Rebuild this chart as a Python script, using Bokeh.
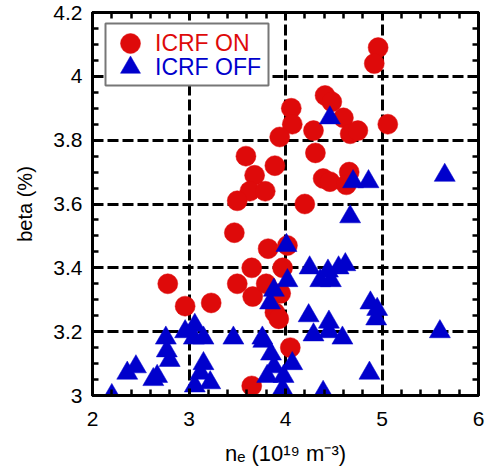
import numpy as np
from bokeh.plotting import figure
from bokeh.models import (ColumnDataSource, FixedTicker, LinearAxis, Range1d,
                          Legend, LegendItem, BoxAnnotation)
from bokeh.core.properties import value
from bokeh.embed import file_html
from bokeh.resources import INLINE

# ---- data ----
on_ne = [4.96, 4.92, 4.06, 4.07, 4.41, 4.48, 4.60, 4.67, 4.75, 5.06,
         4.29, 3.94, 4.31, 3.89, 3.59, 3.68, 3.63, 3.79, 3.50, 4.39,
         4.46, 4.66, 4.63, 4.20, 3.47, 3.82, 4.02, 3.65, 3.97, 3.50,
         2.78, 2.96, 3.23, 3.66, 3.80, 3.95, 3.89, 3.93, 4.05, 3.65]
on_beta = [4.09, 4.04, 3.90, 3.85, 3.94, 3.92, 3.87, 3.82, 3.83, 3.85,
           3.83, 3.81, 3.76, 3.72, 3.75, 3.69, 3.64, 3.64, 3.61, 3.68,
           3.67, 3.70, 3.66, 3.60, 3.51, 3.46, 3.47, 3.40, 3.40, 3.35,
           3.35, 3.28, 3.29, 3.31, 3.35, 3.32, 3.26, 3.24, 3.15, 3.03]

off_ne = [4.46, 5.65, 4.70, 4.86, 4.67, 4.01, 4.25, 4.44, 4.55, 4.62,
          4.36, 4.47, 4.02, 3.88, 3.84, 4.88, 4.95, 4.94, 4.24, 4.45,
          4.45, 4.29, 4.59, 5.60, 4.87, 4.39, 4.07, 3.77, 3.85, 3.88,
          3.81, 3.98, 3.97, 2.20, 2.36, 2.45, 2.63, 2.67, 2.76, 2.77,
          2.80, 2.96, 3.06, 3.05, 3.15, 3.15, 3.12, 3.22, 3.06, 3.46,
          3.76]
off_beta = [3.87, 3.69, 3.67, 3.67, 3.56, 3.47, 3.40, 3.39, 3.40, 3.41,
            3.36, 3.36, 3.36, 3.33, 3.29, 3.29, 3.27, 3.24, 3.25, 3.23,
            3.20, 3.19, 3.18, 3.20, 3.07, 3.01, 3.10, 3.17, 3.13, 3.09,
            3.06, 3.06, 3.02, 3.00, 3.07, 3.09, 3.05, 3.06, 3.18, 3.14,
            3.11, 3.20, 3.22, 3.18, 3.18, 3.10, 3.07, 3.04, 3.03, 3.18,
            3.18]

x_ticks = [2, 3, 4, 5, 6]
x_tick_labels = ["2", "3", "4", "5", "6"]
y_ticks = [3.0, 3.2, 3.4, 3.6, 3.8, 4.0, 4.2]
y_tick_labels = ["3", "3.2", "3.4", "3.6", "3.8", "4", "4.2"]

series_names = ["ICRF ON", "ICRF OFF"]
x_title = "n\u2091 (10\u00b9\u2079 m\u207b\u00b3)"
y_title = "beta (%)"

RED = "#DE0A0A"
BLUE = "#0000CC"
FONT = "Liberation Sans"

x_minor = [float(v) for v in np.round(np.arange(x_ticks[0], x_ticks[-1] + 1e-9, 0.2), 4)]
y_minor = [float(v) for v in np.round(np.arange(y_ticks[0], y_ticks[-1] + 1e-9, 0.05), 4)]

p = figure(frame_width=386, frame_height=383,
           x_range=Range1d(2, 6), y_range=Range1d(3, 4.2),
           output_backend="svg", toolbar_location=None,
           min_border_left=92, min_border_right=8,
           min_border_top=12, min_border_bottom=80,
           background_fill_color="white", border_fill_color="white")

p.outline_line_color = "black"
p.outline_line_width = 3
p.outline_line_alpha = 1

xt = FixedTicker(ticks=x_ticks, minor_ticks=x_minor)
yt = FixedTicker(ticks=y_ticks, minor_ticks=y_minor)


def style_axis(ax):
    ax.axis_line_color = "black"
    ax.axis_line_width = 3
    ax.major_tick_line_color = "black"
    ax.major_tick_line_width = 3
    ax.major_tick_in = 7
    ax.major_tick_out = 0
    ax.minor_tick_line_color = "black"
    ax.minor_tick_line_width = 2.5
    ax.minor_tick_in = 6
    ax.minor_tick_out = 0
    ax.major_label_text_font = FONT
    ax.major_label_text_font_size = "21px"
    ax.major_label_text_color = "black"
    ax.axis_label_text_font = FONT
    ax.axis_label_text_font_style = "normal"
    ax.axis_label_text_color = "black"


xa = p.xaxis[0]
ya = p.yaxis[0]
xa.ticker = xt
ya.ticker = yt
xa.major_label_overrides = dict(zip(x_ticks, x_tick_labels))
ya.major_label_overrides = dict(zip(y_ticks, y_tick_labels))
style_axis(xa)
style_axis(ya)
xa.major_label_standoff = 16
ya.major_label_standoff = 10
xa.axis_label = x_title
ya.axis_label = y_title
xa.axis_label_text_font_size = "22px"
ya.axis_label_text_font_size = "20px"
xa.axis_label_standoff = 12
ya.axis_label_standoff = 14

top_ax = LinearAxis(ticker=xt)
right_ax = LinearAxis(ticker=yt)
style_axis(top_ax)
style_axis(right_ax)
top_ax.major_label_overrides = {t: "" for t in x_ticks}
right_ax.major_label_overrides = {t: "" for t in y_ticks}
top_ax.major_label_standoff = 0
right_ax.major_label_standoff = 0
top_ax.major_label_text_font_size = "1px"
right_ax.major_label_text_font_size = "1px"
p.add_layout(top_ax, "above")
p.add_layout(right_ax, "right")

for g, t in ((p.xgrid[0], xt), (p.ygrid[0], yt)):
    g.ticker = t
    g.grid_line_color = "black"
    g.grid_line_width = 3
    g.grid_line_dash = "11 4"
    g.grid_line_alpha = 1

src_on = ColumnDataSource(dict(x=on_ne, y=on_beta))
src_off = ColumnDataSource(dict(x=off_ne, y=off_beta))

r_on = p.scatter("x", "y", source=src_on, marker="circle", size=20,
                 fill_color=RED, line_color=RED, line_width=0.5)
r_off = p.scatter("x", "y", source=src_off, marker="triangle", size=21,
                  fill_color=BLUE, line_color=BLUE, line_width=0.5)

# legend frame
legend_box = BoxAnnotation(left=105, right=268, top=23, bottom=85,
                           left_units="canvas", right_units="canvas",
                           top_units="canvas", bottom_units="canvas",
                           fill_color="white", fill_alpha=1,
                           line_color="#777777", line_width=2, line_alpha=1,
                           editable=False)
p.add_layout(legend_box)


def make_legend(label, renderer, color, loc):
    return Legend(items=[LegendItem(label=value(label), renderers=[renderer])],
                  location=loc, orientation="vertical",
                  glyph_width=50, glyph_height=50, label_height=50,
                  label_standoff=0, spacing=0, padding=0, margin=0,
                  label_text_font=FONT, label_text_font_size="23px",
                  label_text_color=color,
                  border_line_alpha=0, background_fill_alpha=0)


p.add_layout(make_legend(series_names[0], r_on, RED, (13, 327)), "center")
p.add_layout(make_legend(series_names[1], r_off, BLUE, (13, 303)), "center")

open("out.html", "w").write(file_html(p, INLINE))
